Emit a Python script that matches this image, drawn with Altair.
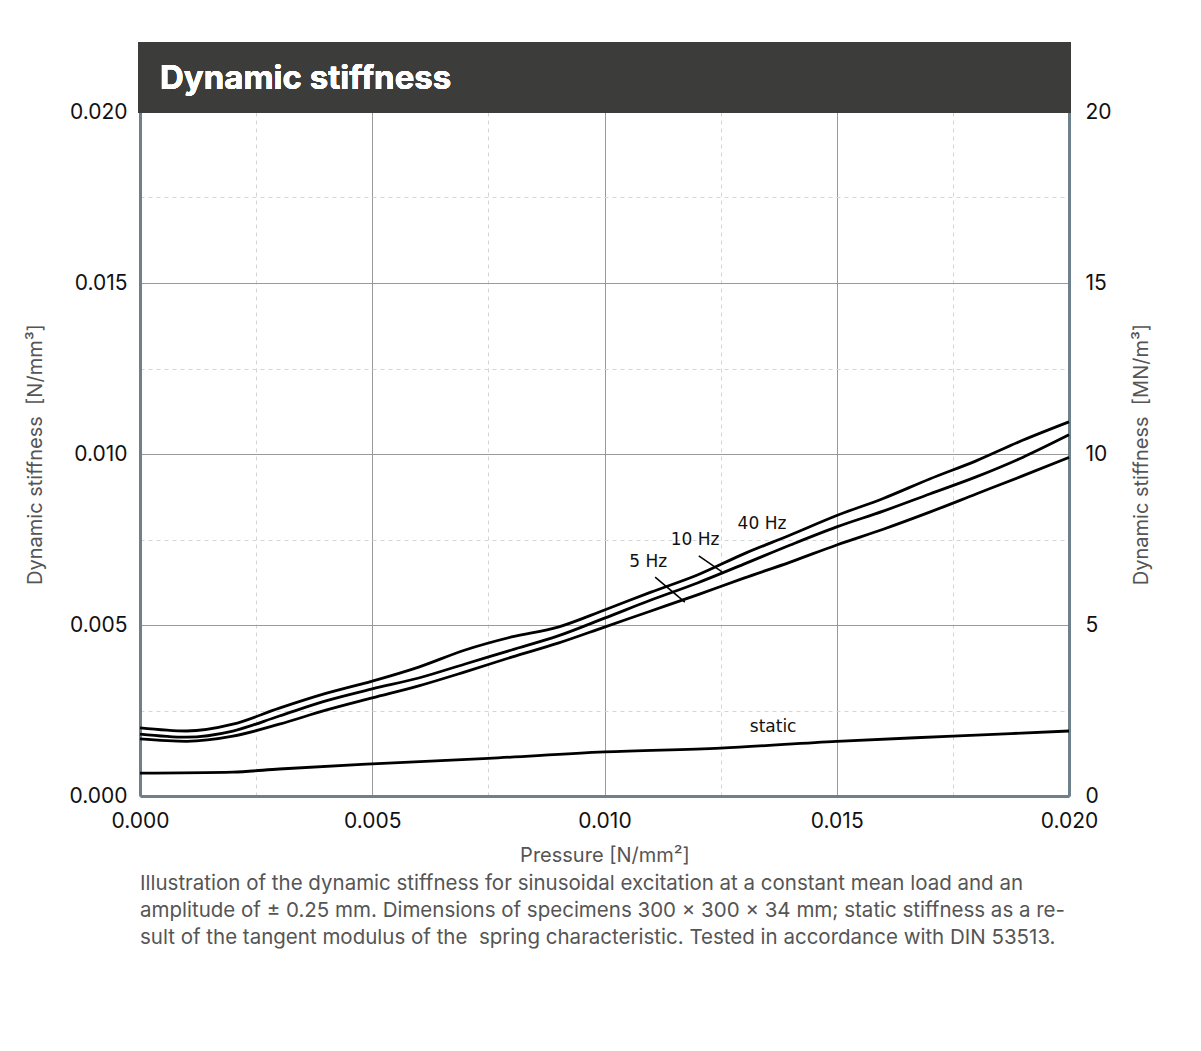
import altair as alt
import pandas as pd

# ---- data ----
px = [0.000, 0.001, 0.002, 0.003, 0.004, 0.005, 0.006, 0.007, 0.008, 0.009, 0.010,
      0.011, 0.012, 0.013, 0.014, 0.015, 0.016, 0.017, 0.018, 0.019, 0.020]
hz40 = [0.00199, 0.00190, 0.00210, 0.00257, 0.00300, 0.00336, 0.00377, 0.00427, 0.00465, 0.00494, 0.00544,
        0.00596, 0.00646, 0.00708, 0.00763, 0.00820, 0.00870, 0.00927, 0.00980, 0.01040, 0.01094]
hz10 = [0.00181, 0.00172, 0.00190, 0.00234, 0.00278, 0.00313, 0.00345, 0.00386, 0.00427, 0.00468, 0.00520,
        0.00573, 0.00623, 0.00678, 0.00734, 0.00787, 0.00833, 0.00883, 0.00933, 0.00990, 0.01056]
hz5 = [0.00167, 0.00160, 0.00175, 0.00210, 0.00251, 0.00287, 0.00322, 0.00363, 0.00406, 0.00447, 0.00494,
       0.00541, 0.00588, 0.00637, 0.00684, 0.00734, 0.00780, 0.00830, 0.00883, 0.00936, 0.00990]
static_x = [0.000, 0.002, 0.003, 0.005, 0.0075, 0.010, 0.0125, 0.015, 0.0175, 0.020]
static_y = [0.00067, 0.00070, 0.00079, 0.00094, 0.00110, 0.00129, 0.00140, 0.00160, 0.00175, 0.00190]

label_text = ["40 Hz", "10 Hz", "5 Hz", "static"]
label_x = [0.01339, 0.01195, 0.01094, 0.01363]
label_y = [0.00795, 0.00749, 0.00684, 0.00202]

leader_series = ["5 Hz", "5 Hz", "10 Hz", "10 Hz"]
leader_x = [0.01109, 0.01173, 0.01203, 0.01253]
leader_y = [0.00640, 0.00567, 0.00702, 0.00655]

right_ticks = [0, 5, 10, 15, 20]
NB = "\u00a0"
caption = [
    "Illustration of the dynamic stiffness for sinusoidal excitation at a constant mean load and an",
    "amplitude of \u00b1 0.25 mm. Dimensions of specimens 300 x 300 x 34 mm; static stiffness as a re-",
    f"sult of the tangent modulus of the {NB}spring characteristic. Tested in accordance with DIN 53513.",
]

rows = []
for name, ys in [("40 Hz", hz40), ("10 Hz", hz10), ("5 Hz", hz5)]:
    for xv, yv in zip(px, ys):
        rows.append({"series": name, "x": xv, "y": yv})
for xv, yv in zip(static_x, static_y):
    rows.append({"series": "static", "x": xv, "y": yv})
df = pd.DataFrame(rows)
lab = pd.DataFrame({"t": label_text, "x": label_x, "y": label_y})
lead = pd.DataFrame({"s": leader_series, "x": leader_x, "y": leader_y})
rdf = pd.DataFrame({"r": right_ticks})

W, H = 929, 684
AXIS_COL = "#6d808c"
FONT = "Inter"
major_test = "abs(datum.value/0.005 - round(datum.value/0.005)) < 0.01"
grid_color = alt.condition(major_test, alt.value("#9a9a9a"), alt.value("#d4d4d4"))
grid_dash = alt.condition(major_test, alt.value([]), alt.value([4, 4]))
ticks_fine = [i * 0.0025 for i in range(9)]

xs = alt.X("x:Q", scale=alt.Scale(domain=[0, 0.02], nice=False),
           axis=alt.Axis(values=ticks_fine, grid=True, gridColor=grid_color, gridDash=grid_dash,
                         labelExpr=f"({major_test}) ? format(datum.value, '.3f') : ''",
                         ticks=False, domainColor=AXIS_COL, domainWidth=3,
                         labelFont=FONT, labelFontSize=21, labelColor="#111", labelPadding=14,
                         title="Pressure [N/mm\u00b2]", titleFont=FONT, titleFontSize=20,
                         titleFontWeight="normal", titleColor="#555", titlePadding=14,
                         labelFlush=False))
ys = alt.Y("y:Q", scale=alt.Scale(domain=[0, 0.02], nice=False),
           axis=alt.Axis(values=ticks_fine, grid=True, gridColor=grid_color, gridDash=grid_dash,
                         labelExpr=f"({major_test}) ? format(datum.value, '.3f') : ''",
                         ticks=False, domainColor=AXIS_COL, domainWidth=3,
                         labelFont=FONT, labelFontSize=21, labelColor="#111", labelPadding=13,
                         title=f"Dynamic stiffness {NB}[N/mm\u00b3]", titleFont=FONT, titleFontSize=20,
                         titleFontWeight="normal", titleColor="#555", titlePadding=24))

lines = alt.Chart(df).mark_line(color="black", strokeWidth=2.8, interpolate="monotone").encode(
    x=xs, y=ys, detail="series:N")

leaders = alt.Chart(lead).mark_line(color="black", strokeWidth=1.5).encode(
    x="x:Q", y="y:Q", detail="s:N")

labels = alt.Chart(lab).mark_text(font="DejaVu Sans", fontSize=17, color="#111").encode(
    x="x:Q", y="y:Q", text="t:N")

bar = alt.Chart(rdf).mark_rect(color="#3c3c3a").encode(
    x=alt.value(-2), x2=alt.value(W + 2), y=alt.value(-70), y2=alt.value(1))
bar_text = alt.Chart(rdf).mark_text(text="Dynamic stiffness", font=FONT, fontSize=33, fontWeight="bold",
                                    color="white", align="left", baseline="middle").encode(
    x=alt.value(20), y=alt.value(-33))

left = alt.layer(lines, leaders, labels, bar, bar_text)

right = alt.Chart(rdf).mark_point(opacity=0).encode(
    y=alt.Y("r:Q", scale=alt.Scale(domain=[0, 20], nice=False),
            axis=alt.Axis(orient="right", values=right_ticks, grid=False, ticks=False,
                          domainColor=AXIS_COL, domainWidth=3,
                          labelFont=FONT, labelFontSize=21, labelColor="#111", labelPadding=16,
                          title=f"Dynamic stiffness {NB}[MN/m\u00b3]", titleFont=FONT, titleFontSize=20,
                          titleFontWeight="normal", titleColor="#555", titlePadding=40,
                          titleAngle=270)))

chart = alt.layer(left, right).resolve_scale(y="independent").properties(
    width=W, height=H,
    title=alt.TitleParams(text=caption, orient="bottom", anchor="start", frame="group",
                          font=FONT, fontSize=20.5, fontWeight="normal", color="#555",
                          lineHeight=27, offset=9),
    padding={"left": 17, "top": 34, "right": 5, "bottom": 5},
).configure_view(stroke=None).configure(background="white")

chart.save("out.html", embed_options={"renderer": "svg", "actions": False})
